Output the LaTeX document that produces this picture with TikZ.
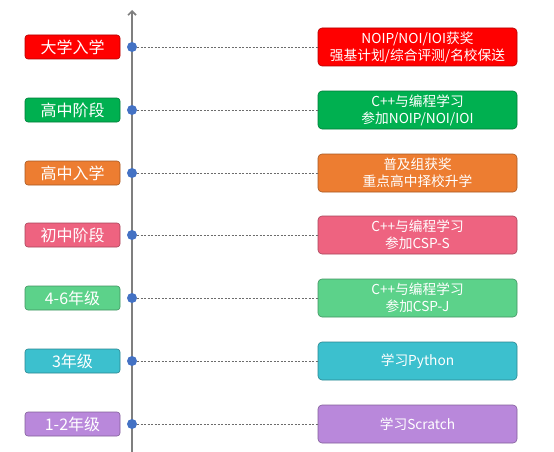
\documentclass[tikz,border=0pt]{standalone}
\usepackage{fontspec}
\setmainfont{Noto Sans CJK SC}
\usetikzlibrary{arrows.meta}

\definecolor{axisgray}{HTML}{7F7F7F}
\definecolor{dotblue}{HTML}{4472C4}
\definecolor{cred}{HTML}{FF0000}
\definecolor{cgreen}{HTML}{00B050}
\definecolor{corange}{HTML}{ED7D31}
\definecolor{cpink}{HTML}{EE6380}
\definecolor{clight}{HTML}{5CD28A}
\definecolor{ccyan}{HTML}{3CC0CE}
\definecolor{cpurple}{HTML}{B988DB}

\begin{document}
\begin{tikzpicture}[x=1pt,y=-1pt,
	stage/.style={draw=#1!70!black, fill=#1, rounded corners=3pt, line width=0.6pt,
		minimum width=95pt, minimum height=24pt, inner sep=0pt, text=white,
		font=\fontsize{16}{18}\selectfont},
	goal/.style={draw=#1!70!black, fill=#1, rounded corners=4pt, line width=0.6pt,
		minimum width=199pt, minimum height=38pt, inner sep=0pt, text=white, align=center,
		font=\fontsize{13.7}{17}\selectfont},
	dot/.style={circle, fill=dotblue, inner sep=0pt, minimum size=10pt},
	link/.style={draw=axisgray!85!black, dash pattern=on 2pt off 1.5pt, line width=0.8pt}]
	\useasboundingbox (0,0) rectangle (554,452);
	%time axis
	\coordinate (bottom) at (132,452);
	\coordinate (top) at (132,10);
	\draw[axisgray, line width=1.6pt, -{Straight Barb[length=4pt,width=8pt]}] (bottom) -- (top);
	%stages, one row each
	\foreach \i/\y/\col/\lab/\txt in {
		1/47/cred/大学入学/{NOIP/NOI/IOI获奖\\强基计划/综合评测/名校保送},
		2/110/cgreen/高中阶段/{C++与编程学习\\参加NOIP/NOI/IOI},
		3/173/corange/高中入学/{普及组获奖\\重点高中择校升学},
		4/235/cpink/初中阶段/{C++与编程学习\\参加CSP-S},
		5/298/clight/4-6年级/{C++与编程学习\\参加CSP-J},
		6/361/ccyan/3年级/{学习Python},
		7/424/cpurple/1-2年级/{学习Scratch}}
	{\node[stage=\col] (s\i) at (72.5,\y) {\lab};
		\node[dot] (d\i) at (132,\y) {};
		\node[goal=\col] (g\i) at (417.5,\y) {\txt};
		\draw[link] (d\i) -- (g\i.west);}
\end{tikzpicture}
\end{document}
